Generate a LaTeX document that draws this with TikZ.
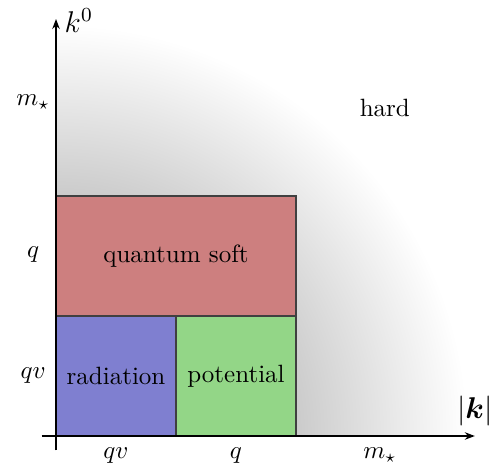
\documentclass[tikz,border=0pt]{standalone}
\usepackage{bm}
\usetikzlibrary{arrows.meta}
\definecolor{softred}{HTML}{CD7F7F}
\definecolor{radblue}{HTML}{7F7FD0}
\definecolor{potgreen}{HTML}{93D687}
\pgfdeclareradialshading{hardfade}{\pgfpoint{0bp}{0bp}}{%
  color(0bp)=(black!25); color(14bp)=(black!21); color(24.5bp)=(white); color(50bp)=(white)}

\begin{document}
\begin{tikzpicture}[x=48pt,y=48pt]
  \path[use as bounding box] (-0.4667,-0.225) rectangle (3.7167,3.6333);
  \tikzset{region/.style={draw=black!75,line width=0.5pt},
    axis/.style={line width=0.5pt,-{Stealth[length=4pt,width=3pt]}}}

  % Soft-to-hard fade.
  \begin{scope}
    \clip (0,0) rectangle (3.7,3.7);
    \shade[shading=hardfade] (0,0) circle[radius=3.5];
  \end{scope}

  % Regions.
  \draw[region,fill=softred] (0,1) rectangle (2,2);
  \draw[region,fill=radblue] (0,0) rectangle (1,1);
  \draw[region,fill=potgreen] (1,0) rectangle (2,1);
  \node (soft) at (1,1.5) {quantum soft};
  \node (rad) at (0.5,0.5) {radiation};
  \node (pot) at (1.5,0.5) {potential};
  \node (hard) at (2.74,2.73) {hard};

  % Axes.
  \coordinate (xs) at (-0.12,0);
  \coordinate (xe) at (3.49,0);
  \coordinate (ys) at (0,-0.12);
  \coordinate (ye) at (0,3.475);
  \draw[axis] (xs) -- (xe);
  \draw[axis] (ys) -- (ye);
  \node[font=\large] (kzero) at (0.19,3.46) {$k^0$};
  \node[font=\large] (kabs) at (3.49,0.21) {$|\bm{k}|$};

  % Scale labels.
  \foreach \pos/\lab/\nm in {0.5/qv/a,1.5/q/b,2.7/m_\star/c}{
    \node (x\nm) at (\pos,-0.16) {$\lab$};
  }
  \foreach \pos/\lab/\nm in {0.5/qv/a,1.51/q/b,2.78/m_\star/c}{
    \node (y\nm) at (-0.19,\pos) {$\lab$};
  }
\end{tikzpicture}
\end{document}
